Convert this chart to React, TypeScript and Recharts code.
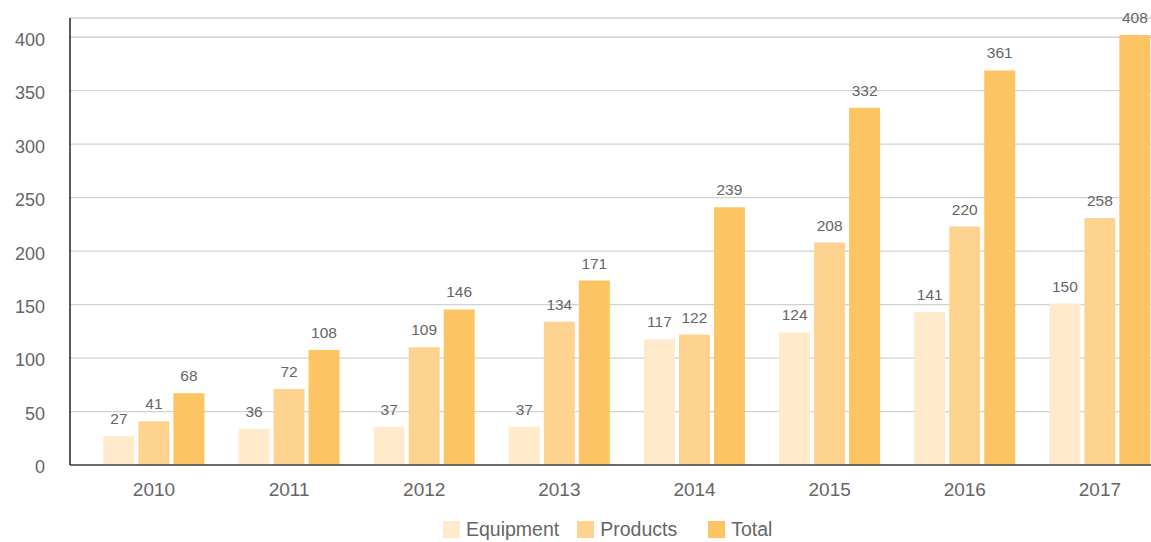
import { BarChart, Bar, XAxis, YAxis, CartesianGrid, Legend, LabelList } from 'recharts'

const YEARS = ['2010', '2011', '2012', '2013', '2014', '2015', '2016', '2017']

// bar heights as drawn
const EQUIPMENT = [27, 34, 36, 36, 117.5, 124, 143, 151]
const PRODUCTS = [41, 71, 110, 134, 122, 208, 223, 231]
const TOTAL = [67, 107.5, 145.5, 172.5, 241, 334, 369, 402]

// value labels as printed above the bars
const EQUIPMENT_LABELS = [27, 36, 37, 37, 117, 124, 141, 150]
const PRODUCTS_LABELS = [41, 72, 109, 134, 122, 208, 220, 258]
const TOTAL_LABELS = [68, 108, 146, 171, 239, 332, 361, 408]

const Y_TICKS = [0, 50, 100, 150, 200, 250, 300, 350, 400]

const SERIES = [
  { key: 'equipment', label: 'equipmentLabel', name: 'Equipment', color: '#FFEACC' },
  { key: 'products', label: 'productsLabel', name: 'Products', color: '#FED38F' },
  { key: 'total', label: 'totalLabel', name: 'Total', color: '#FDC463' },
]

const FONT = '"Liberation Sans", Arial, sans-serif'

const data = YEARS.map((year, i) => ({
  year,
  equipment: EQUIPMENT[i],
  products: PRODUCTS[i],
  total: TOTAL[i],
  equipmentLabel: EQUIPMENT_LABELS[i],
  productsLabel: PRODUCTS_LABELS[i],
  totalLabel: TOTAL_LABELS[i],
}))

const legendGaps = [18, 31, 0]

function ChartLegend() {
  return (
    <div style={{ height: 37, paddingTop: 13, boxSizing: 'border-box', display: 'flex', alignItems: 'flex-start', paddingLeft: 443 }}>
      {SERIES.map((s, i) => (
        <div key={s.key} style={{ display: 'flex', alignItems: 'center', marginRight: legendGaps[i] }}>
          <span style={{ width: 17, height: 17, background: s.color, display: 'inline-block', marginRight: 6, marginTop: 1 }} />
          <span style={{ fontFamily: FONT, fontSize: 19.5, color: '#666', lineHeight: '22px' }}>{s.name}</span>
        </div>
      ))}
    </div>
  )
}

export default function App() {
  return (
    <div style={{ position: 'absolute', left: 0, top: 0, width: 1151, height: 542, overflow: 'hidden', background: '#fff' }}>
      <BarChart
        width={1169}
        height={542}
        data={data}
        margin={{ top: 18, right: 1.5, bottom: 0, left: 0 }}
        barGap={4}
        barSize={31}
      >
        <CartesianGrid vertical={false} stroke="#d2d2d2" strokeWidth={1.3} />
        <XAxis
          dataKey="year"
          height={40}
          padding={{ left: 16.4, right: 0 }}
          tickLine={false}
          tickSize={0}
          tickMargin={18}
          axisLine={{ stroke: '#444', strokeWidth: 1.5 }}
          tick={{ fill: '#666', fontSize: 19, fontFamily: FONT }}
        />
        <YAxis
          width={70}
          domain={[0, 418]}
          ticks={Y_TICKS}
          interval={0}
          tickLine={false}
          tickSize={0}
          tickMargin={25}
          axisLine={{ stroke: '#222', strokeWidth: 1.5 }}
          tick={{ fill: '#666', fontSize: 18, fontFamily: FONT, dy: 2 }}
        />
        <Legend verticalAlign="bottom" content={() => <ChartLegend />} />
        {SERIES.map(s => (
          <Bar key={s.key} dataKey={s.key} name={s.name} fill={s.color} isAnimationActive={false}>
            <LabelList dataKey={s.label} position="top" offset={12} fill="#666" fontSize={15.5} fontFamily={FONT} />
          </Bar>
        ))}
      </BarChart>
    </div>
  )
}
